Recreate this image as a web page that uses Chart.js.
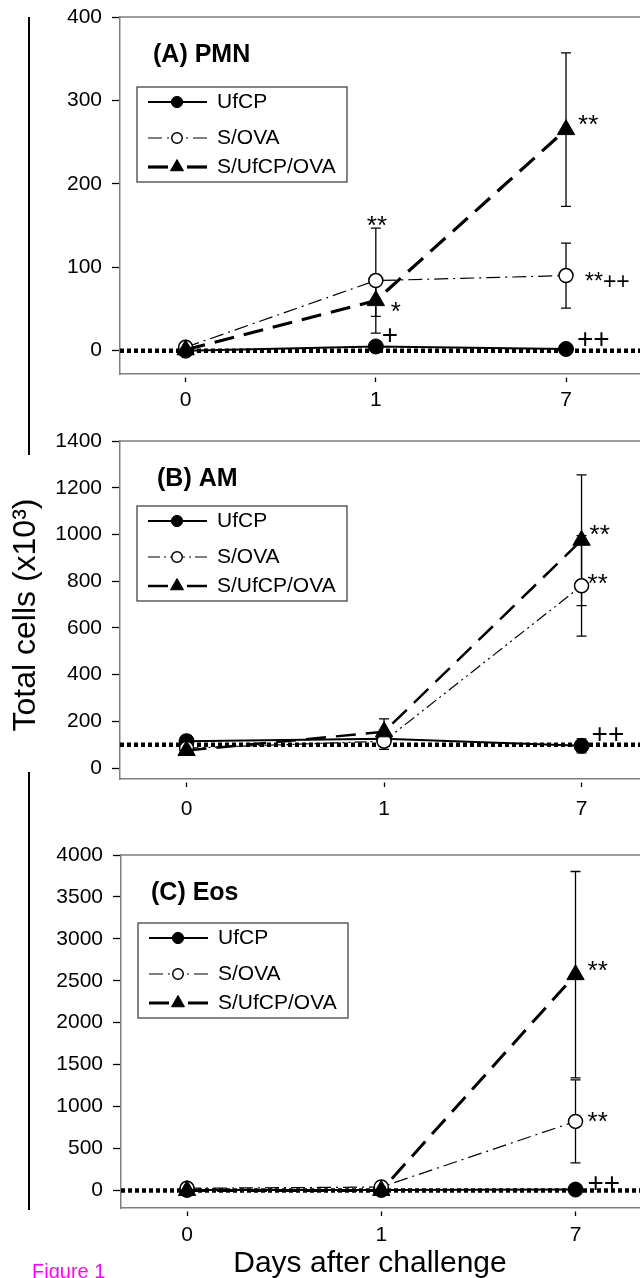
<!DOCTYPE html>
<html>
<head>
<meta charset="utf-8">
<title>Figure 1</title>
<script src="https://cdn.jsdelivr.net/npm/chart.js@4.4.1/dist/chart.umd.min.js"></script>
<style>
    html, body { margin: 0; padding: 0; background: #fff; }
    #page { position: relative; width: 640px; height: 1278px; overflow: hidden; }
    canvas { position: absolute; left: 0; }
</style>
</head>
<body>
<div id="page">
    <canvas id="bg" width="640" height="1278" style="top:0"></canvas>
    <canvas id="chartA" width="640" height="425" style="top:0"></canvas>
    <canvas id="chartB" width="640" height="415" style="top:425px"></canvas>
    <canvas id="chartC" width="640" height="438" style="top:840px"></canvas>
</div>
<script>
/* ---------- données ---------- */
const days = ['0', '1', '7'];
const seriesNames = ['UfCP', 'S/OVA', 'S/UfCP/OVA'];

// (A) PMN
const pmnUfCP = [0, 5, 2];
const pmnUfCPErr = [1, 2, 1];
const pmnOVA = [4, 84, 90];
const pmnOVAErr = [2, 63, 39];
const pmnUfCPOVA = [1, 60, 265];
const pmnUfCPOVAErr = [1, 19, 92];
const pmnTicks = [0, 100, 200, 300, 400];
const pmnBaseline = 0;

// (B) AM
const amUfCP = [115, 125, 95];
const amUfCPErr = [25, 30, 30];
const amOVA = [85, 115, 780];
const amOVAErr = [15, 35, 215];
const amUfCPOVA = [75, 155, 975];
const amUfCPOVAErr = [15, 55, 280];
const amTicks = [0, 200, 400, 600, 800, 1000, 1200, 1400];
const amBaseline = 100;

// (C) Eos
const eosUfCP = [5, 5, 10];
const eosUfCPErr = [3, 3, 5];
const eosOVA = [25, 40, 823];
const eosOVAErr = [10, 15, 495];
const eosUfCPOVA = [0, 0, 2573];
const eosUfCPOVAErr = [5, 5, 1230];
const eosTicks = [0, 500, 1000, 1500, 2000, 2500, 3000, 3500, 4000];
const eosBaseline = 0;

/* ---------- réglages ---------- */
const FONT = "'Liberation Sans', Arial, sans-serif";
Chart.defaults.font.family = FONT;
Chart.defaults.color = '#000';

const toXY = arr => arr.map((v, i) => ({ x: i, y: v }));

function drawMarker(ctx, ds, x, y, scale) {
    const r = ds.pointRadius * scale;
    ctx.save();
    ctx.setLineDash([]);
    ctx.fillStyle = ds.pointBackgroundColor;
    ctx.strokeStyle = ds.pointBorderColor;
    ctx.lineWidth = ds.pointBorderWidth;
    ctx.beginPath();
    if (ds.pointStyle === 'triangle') {
        for (let k = 0; k < 3; k++) {
            const ang = k * 2 * Math.PI / 3;
            const px = x + Math.sin(ang) * r, py = y - Math.cos(ang) * r;
            if (k) ctx.lineTo(px, py); else ctx.moveTo(px, py);
        }
        ctx.closePath();
    } else {
        ctx.arc(x, y, r, 0, 2 * Math.PI);
    }
    ctx.fill();
    ctx.stroke();
    ctx.restore();
}

const panelDecor = {
    id: 'panelDecor',
    beforeDatasetsDraw(chart, args, o) {
        const { ctx, chartArea: a, scales: { y } } = chart;
        ctx.save();
        // bord supérieur du cadre
        ctx.strokeStyle = '#7f7f7f';
        ctx.lineWidth = 1.5;
        ctx.beginPath();
        ctx.moveTo(a.left, a.top);
        ctx.lineTo(a.right, a.top);
        ctx.stroke();

        // barres d'erreur
        ctx.strokeStyle = '#000';
        ctx.lineWidth = 1.3;
        chart.data.datasets.forEach((ds, i) => {
            const meta = chart.getDatasetMeta(i);
            ds.errors.forEach((e, j) => {
                const px = meta.data[j].x;
                const v = ds.data[j].y;
                const t = y.getPixelForValue(v + e), b = y.getPixelForValue(v - e);
                ctx.beginPath();
                ctx.moveTo(px, t); ctx.lineTo(px, b);
                ctx.moveTo(px - 5, t); ctx.lineTo(px + 5, t);
                ctx.moveTo(px - 5, b); ctx.lineTo(px + 5, b);
                ctx.stroke();
            });
        });

        // ligne de base pointillée
        const by = y.getPixelForValue(o.baseline);
        ctx.setLineDash([4, 3]);
        ctx.lineWidth = 4.5;
        ctx.beginPath();
        ctx.moveTo(a.left, by);
        ctx.lineTo(a.right, by);
        ctx.stroke();
        ctx.restore();
    },
    afterDatasetsDraw(chart, args, o) {
        const { ctx, chartArea: a, scales: { x, y } } = chart;
        ctx.save();

        // titre du panneau
        ctx.fillStyle = '#000';
        ctx.font = 'bold 25px ' + FONT;
        ctx.textBaseline = 'middle';
        ctx.textAlign = 'left';
        ctx.fillText(o.title, a.left + o.titleDx, a.top + 38);

        // légende encadrée
        const bx = a.left + 17, byTop = a.top + o.legendTop;
        ctx.strokeStyle = '#444';
        ctx.lineWidth = 1.3;
        ctx.strokeRect(bx, byTop, 210, 95);
        const rows = [15, 51, 80];
        chart.data.datasets.forEach((ds, i) => {
            const ry = byTop + rows[i];
            const mx = bx + 40;
            ctx.save();
            ctx.strokeStyle = '#000';
            ctx.lineWidth = ds.borderWidth;
            ctx.setLineDash(ds.borderDash || []);
            ctx.beginPath(); ctx.moveTo(bx + 11, ry); ctx.lineTo(mx, ry); ctx.stroke();
            ctx.beginPath(); ctx.moveTo(bx + 70, ry); ctx.lineTo(mx, ry); ctx.stroke();
            ctx.restore();
            drawMarker(ctx, ds, mx, ry, 0.75);
            ctx.fillStyle = '#000';
            ctx.font = '21px ' + FONT;
            ctx.textBaseline = 'middle';
            ctx.fillText(ds.label, bx + 80, ry);
        });

        // marques de significativité
        ctx.textBaseline = 'alphabetic';
        o.marks.forEach(m => {
            ctx.font = m.size + 'px ' + FONT;
            ctx.fillText(m.text, x.getPixelForValue(m.day) + m.dx, y.getPixelForValue(m.value) + m.dy);
        });
        ctx.restore();
    }
};

function panel(id, p) {
    const datasets = [
        {
            label: seriesNames[0], data: toXY(p.values[0]), errors: p.errors[0],
            borderColor: '#000', borderWidth: 2, borderDash: [],
            pointStyle: 'circle', pointRadius: 7.5,
            pointBackgroundColor: '#000', pointBorderColor: '#000', pointBorderWidth: 1, order: 2
        },
        {
            label: seriesNames[1], data: toXY(p.values[1]), errors: p.errors[1],
            borderColor: '#000', borderWidth: 1.2, borderDash: p.ovaDash,
            pointStyle: 'circle', pointRadius: 7,
            pointBackgroundColor: '#fff', pointBorderColor: '#000', pointBorderWidth: 1.5, order: 1
        },
        {
            label: seriesNames[2], data: toXY(p.values[2]), errors: p.errors[2],
            borderColor: '#000', borderWidth: p.triWidth, borderDash: [20, 10],
            pointStyle: 'triangle', pointRadius: 10,
            pointBackgroundColor: '#000', pointBorderColor: '#000', pointBorderWidth: 1, order: 0
        }
    ];

    return new Chart(document.getElementById(id), {
        type: 'line',
        data: { datasets },
        plugins: [panelDecor],
        options: {
            responsive: false,
            animation: false,
            layout: { autoPadding: false, padding: { top: p.padTop, left: 0, right: 0, bottom: 0 } },
            elements: { line: { tension: 0 } },
            plugins: {
                legend: { display: false },
                tooltip: { enabled: false },
                panelDecor: {
                    title: p.title, titleDx: p.titleDx, legendTop: p.legendTop,
                    baseline: p.baseline, marks: p.marks
                }
            },
            scales: {
                x: {
                    type: 'linear', min: p.xMin, max: p.xMax,
                    afterBuildTicks: s => { s.ticks = days.map((d, i) => ({ value: i })); },
                    afterFit: s => { s.height = p.xAxisH; s.paddingLeft = 0; s.paddingRight = 0; },
                    ticks: {
                        callback: (v, i) => days[i],
                        font: { size: 21 }, color: '#000', padding: p.xPad,
                        maxRotation: 0, autoSkip: false
                    },
                    grid: {
                        drawOnChartArea: false, drawTicks: true, tickLength: 8,
                        tickColor: '#000', tickWidth: 1.3,
                        tickBorderDash: [5, 3], tickBorderDashOffset: 5
                    },
                    border: { color: '#7f7f7f', width: 1.5 }
                },
                y: {
                    min: p.yMin, max: p.yMax,
                    afterBuildTicks: s => { s.ticks = p.ticks.map(v => ({ value: v })); },
                    afterFit: s => { s.width = p.yAxisW; s.paddingTop = 0; s.paddingBottom = 0; },
                    ticks: { callback: v => String(v), font: { size: 21 }, color: '#000', padding: 10 },
                    grid: { drawOnChartArea: false, drawTicks: true, tickLength: 8, tickColor: '#000', tickWidth: 1.3 },
                    border: { color: '#7f7f7f', width: 1.5 }
                }
            }
        }
    });
}

/* ---------- les trois panneaux ---------- */
panel('chartA', {
    title: '(A) PMN', titleDx: 33, legendTop: 70,
    values: [pmnUfCP, pmnOVA, pmnUfCPOVA],
    errors: [pmnUfCPErr, pmnOVAErr, pmnUfCPOVAErr],
    ticks: pmnTicks, baseline: pmnBaseline,
    yMin: -28, yMax: 400, xMin: -0.345, xMax: 2.389,
    padTop: 17, xAxisH: 51, yAxisW: 120, xPad: 6,
    ovaDash: [14, 5, 2, 5], triWidth: 3.2,
    marks: [
        { day: 1, value: pmnOVA[1] + pmnOVAErr[1], text: '**', dx: -9, dy: 6, size: 26 },
        { day: 1, value: pmnUfCPOVA[1], text: '*', dx: 15, dy: 19, size: 26 },
        { day: 1, value: pmnUfCP[1], text: '+', dx: 6, dy: -2, size: 28 },
        { day: 2, value: pmnUfCPOVA[2], text: '**', dx: 12, dy: 3, size: 26 },
        { day: 2, value: pmnOVA[2], text: '**++', dx: 19, dy: 13, size: 23 },
        { day: 2, value: pmnUfCP[2], text: '++', dx: 11, dy: -1, size: 28 }
    ]
});

panel('chartB', {
    title: '(B) AM', titleDx: 37, legendTop: 65,
    values: [amUfCP, amOVA, amUfCPOVA],
    errors: [amUfCPErr, amOVAErr, amUfCPOVAErr],
    ticks: amTicks, baseline: amBaseline,
    yMin: -47, yMax: 1400, xMin: -0.337, xMax: 2.296,
    padTop: 16, xAxisH: 61, yAxisW: 120, xPad: 10,
    ovaDash: [12, 4, 2, 4, 2, 4], triWidth: 2.5,
    marks: [
        { day: 2, value: amUfCPOVA[2], text: '**', dx: 8, dy: 3, size: 26 },
        { day: 2, value: amOVA[2], text: '**', dx: 6, dy: 6, size: 26 },
        { day: 2, value: amUfCP[2], text: '++', dx: 10, dy: -3, size: 28 }
    ]
});

panel('chartC', {
    title: '(C) Eos', titleDx: 30, legendTop: 68,
    values: [eosUfCP, eosOVA, eosUfCPOVA],
    errors: [eosUfCPErr, eosOVAErr, eosUfCPOVAErr],
    ticks: eosTicks, baseline: eosBaseline,
    yMin: -210, yMax: 4000, xMin: -0.34, xMax: 2.332,
    padTop: 15, xAxisH: 70, yAxisW: 121, xPad: 7,
    ovaDash: [14, 5, 2, 5], triWidth: 3,
    marks: [
        { day: 2, value: eosUfCPOVA[2], text: '**', dx: 12, dy: 4, size: 26 },
        { day: 2, value: eosOVA[2], text: '**', dx: 12, dy: 9, size: 26 },
        { day: 2, value: eosUfCP[2], text: '++', dx: 12, dy: 2, size: 28 }
    ]
});

/* ---------- textes communs ---------- */
const bg = document.getElementById('bg').getContext('2d');
bg.strokeStyle = '#000';
bg.lineWidth = 2;
bg.beginPath();
bg.moveTo(29, 17); bg.lineTo(29, 455);
bg.moveTo(29, 772); bg.lineTo(29, 1210);
bg.stroke();

bg.fillStyle = '#000';
bg.save();
bg.translate(35, 615);
bg.rotate(-Math.PI / 2);
bg.font = '32px ' + FONT;
bg.textAlign = 'center';
bg.textBaseline = 'alphabetic';
bg.fillText('Total cells (x10³)', 0, 0);
bg.restore();

bg.font = '30px ' + FONT;
bg.textAlign = 'center';
bg.fillText('Days after challenge', 370, 1272);

bg.fillStyle = '#ff00ff';
bg.font = '20px ' + FONT;
bg.textAlign = 'left';
bg.fillText('Figure 1', 32, 1278);
</script>
</body>
</html>
